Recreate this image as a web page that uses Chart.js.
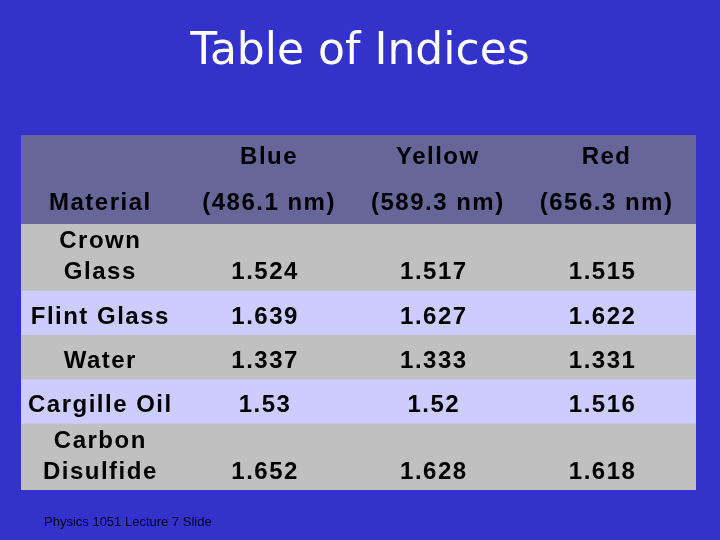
<!DOCTYPE html>
<html><head><meta charset="utf-8">
<script src="https://cdn.jsdelivr.net/npm/chart.js@4"></script>
<style>html,body{margin:0;padding:0;background:#3333cc;}canvas{display:block;}</style>
</head><body>
<canvas id="c" width="720" height="540"></canvas>
<script>
const title = "Table of Indices";
const footer = "Physics 1051 Lecture 7 Slide";
const headerTop = ["", "Blue", "Yellow", "Red"];
const headerBottom = ["Material", "(486.1 nm)", "(589.3 nm)", "(656.3 nm)"];
const materials = [["Crown", "Glass"], ["Flint Glass"], ["Water"], ["Cargille Oil"], ["Carbon", "Disulfide"]];
const blueIdx = ["1.524", "1.639", "1.337", "1.53", "1.652"];
const yellowIdx = ["1.517", "1.627", "1.333", "1.52", "1.628"];
const redIdx = ["1.515", "1.622", "1.331", "1.516", "1.618"];
const rowUnits = [4, 3, 2, 2, 2, 3];
const rowColors = ["#666699", "#c0c0c0", "#ccccff", "#c0c0c0", "#ccccff", "#c0c0c0"];
const colCenters = [0.47, 1.47, 2.47, 3.47];

const FONT = "bold 24px 'Liberation Sans', Arial, sans-serif";
const textPlugin = {
  id: 'tableText',
  afterDatasetsDraw(chart) {
    const ctx = chart.ctx, y = chart.scales.y, x = chart.scales.x2;
    ctx.save();
    ctx.fillStyle = "#fff";
    ctx.font = "44px 'DejaVu Sans', sans-serif";
    ctx.textAlign = "center"; ctx.textBaseline = "middle";
    ctx.fillText(title, 360, 53);
    ctx.fillStyle = "#000033";
    ctx.font = "13px 'Liberation Sans', Arial, sans-serif";
    ctx.textAlign = "left";
    ctx.fillText(footer, 44, 522);
    ctx.font = FONT; ctx.fillStyle = "#000"; ctx.textAlign = "center"; ctx.textBaseline = "alphabetic";
    ctx.letterSpacing = "1.5px";
    for (let c = 0; c < 4; c++) {
      const px = x.getPixelForValue(colCenters[c]);
      if (headerTop[c]) ctx.fillText(headerTop[c], px, y.getPixelForValue(1.3));
      ctx.fillText(headerBottom[c], px, y.getPixelForValue(3.4));
    }
    let top = rowUnits[0];
    for (let r = 0; r < materials.length; r++) {
      const h = rowUnits[r + 1];
      const base = y.getPixelForValue(top + h) - 11;
      const lines = materials[r];
      lines.forEach((t, i) => {
        ctx.fillText(t, x.getPixelForValue(colCenters[0]), base - (lines.length - 1 - i) * 31);
      });
      [blueIdx, yellowIdx, redIdx].forEach((arr, c) => {
        ctx.fillText(arr[r], x.getPixelForValue(colCenters[c + 1]) - 4, base);
      });
      top += h;
    }
    ctx.restore();
  }
};

new Chart(document.getElementById('c'), {
  type: 'bar',
  data: {
    labels: ["table"],
    datasets: rowUnits.map((u, i) => ({ data: [u], backgroundColor: rowColors[i], borderWidth: 0, stack: 's', categoryPercentage: 1, barPercentage: 1 }))
  },
  options: {
    responsive: false, animation: false,
    layout: { padding: { left: 21, right: 24, top: 135, bottom: 50 } },
    plugins: { legend: { display: false }, tooltip: { enabled: false } },
    scales: {
      x: { display: false, stacked: true },
      x2: { type: 'linear', display: false, min: 0, max: 4, offset: false, grace: 0 },
      y: { display: false, stacked: true, reverse: true, min: 0, max: 16 }
    }
  },
  plugins: [textPlugin]
});
</script>
</body></html>
